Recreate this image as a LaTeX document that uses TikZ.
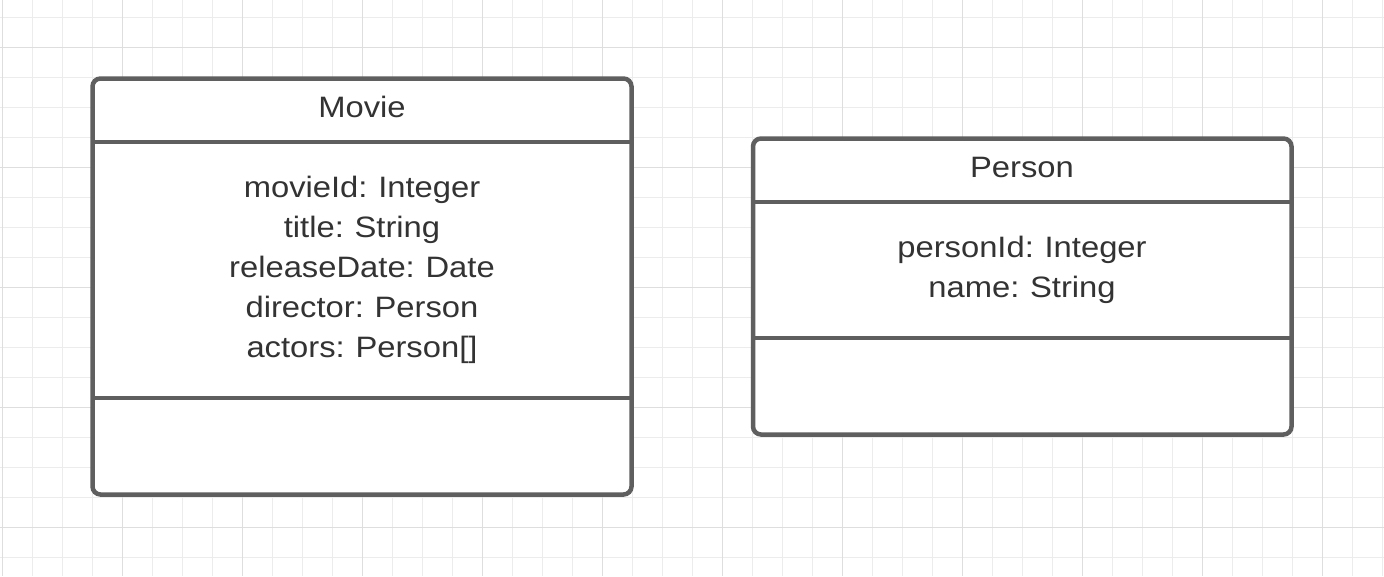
\documentclass[tikz,border=0pt]{standalone}
\usepackage{fontspec}
\newfontfamily\umlfont[FakeStretch=1.11,WordSpace=0.85]{Liberation Sans}
\definecolor{gridminor}{HTML}{ECECEC}
\definecolor{gridmajor}{HTML}{DEDEDE}
\definecolor{boxline}{HTML}{5F5F5F}
\definecolor{txt}{HTML}{333333}
\tikzset{
  umlbox/.style={draw=boxline, line width=4.5pt, rounded corners=8pt, fill=white},
  sep/.style={draw=boxline, line width=4.5pt},
  umltext/.style={anchor=base, inner sep=0pt, text=txt, font=\umlfont\fontsize{29.5}{40}\selectfont},
  minorline/.style={draw=gridminor, line width=1pt},
  majorline/.style={draw=gridmajor, line width=1pt}
}
\begin{document}
\begin{tikzpicture}[x=1pt,y=-1pt]
\useasboundingbox (0,0) rectangle (1384,576);
\fill[white] (0,0) rectangle (1384,576);
% grid
\foreach \x in {2.5,32.5,...,1383} \draw[minorline] (\x,0) -- (\x,576);
\foreach \y in {17,47,...,576} \draw[minorline] (0,\y) -- (1384,\y);
\foreach \x in {2.5,122.5,...,1383} \draw[majorline] (\x,0) -- (\x,576);
\foreach \y in {47,167,...,576} \draw[majorline] (0,\y) -- (1384,\y);
% Movie class
\draw[umlbox] (92.5,78.5) rectangle (631.5,494.5);
\coordinate (m1l) at (92.5,142); \coordinate (m1r) at (631.5,142);
\coordinate (m2l) at (92.5,398); \coordinate (m2r) at (631.5,398);
\draw[sep] (m1l) -- (m1r);
\draw[sep] (m2l) -- (m2r);
\node[umltext] (movietitle) at (362,117.5) {Movie};
\node[umltext] (mattr1) at (362,197) {movieId: Integer};
\node[umltext] (mattr2) at (362,237) {title: String};
\node[umltext] (mattr3) at (362,277) {releaseDate: Date};
\node[umltext] (mattr4) at (362,317) {director: Person};
\node[umltext] (mattr5) at (362,357) {actors: Person[]};
% Person class
\draw[umlbox] (753,138.5) rectangle (1291.5,434.5);
\coordinate (p1l) at (753,202); \coordinate (p1r) at (1291.5,202);
\coordinate (p2l) at (753,338); \coordinate (p2r) at (1291.5,338);
\draw[sep] (p1l) -- (p1r);
\draw[sep] (p2l) -- (p2r);
\node[umltext] (persontitle) at (1022,177.5) {Person};
\node[umltext] (pattr1) at (1022,257) {personId: Integer};
\node[umltext] (pattr2) at (1022,297) {name: String};
\end{tikzpicture}
\end{document}
